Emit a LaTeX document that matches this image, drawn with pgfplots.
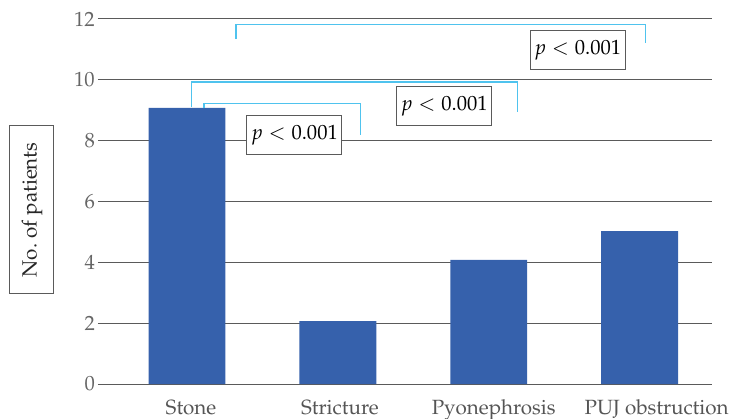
\documentclass[border=0pt]{standalone}
\usepackage[T1]{fontenc}
\usepackage{mathpazo}
\usepackage{pgfplots}
\pgfplotsset{compat=1.18}
\definecolor{barblue}{HTML}{3661AC}
\definecolor{brk}{HTML}{4FC3EE}
\definecolor{gridc}{HTML}{5A5A5A}
\definecolor{tickc}{HTML}{666666}
\definecolor{catc}{HTML}{555555}
\begin{document}
\begin{tikzpicture}[font=\fontsize{20.6bp}{24bp}\selectfont]
\begin{axis}[
  at={(0,0)}, anchor=south west,
  scale only axis, width=614bp, height=365bp,
  xmin=-0.59, xmax=3.48, ymin=0, ymax=12,
  ytick={0,2,...,12}, xtick={0,1,2,3},
  xticklabels={\hspace*{8bp}Stone,\hspace*{4bp}Stricture,\hspace*{10bp}Pyonephrosis,\hspace*{34bp}PUJ obstruction},
  axis line style={draw=none},
  major tick length=0pt,
  ymajorgrids, grid style={gridc, line width=1bp},
  yticklabel style={text=tickc, anchor=east, inner sep=0pt, xshift=-3bp},
  xticklabel style={text=catc, anchor=base, inner sep=0pt, yshift=-30.5bp},
  clip=false,
]
\addplot[ybar, bar width=0.51, fill=barblue, draw=none] coordinates {(0,9.08) (1,2.07) (2,4.08) (3,5.03)};
% brackets
\addplot[brk, line width=1.2bp, mark=none] coordinates {(0.325,11.34) (0.325,11.82) (3.04,11.82) (3.04,11.21)};
\addplot[brk, line width=1.2bp, mark=none] coordinates {(0.031,9.10) (0.031,9.93) (2.19,9.93) (2.19,8.94)};
\addplot[brk, line width=1.2bp, mark=none] coordinates {(0.113,9.06) (0.113,9.21) (1.152,9.21) (1.152,8.19)};
\node[draw=gridc, fill=white, line width=1bp, minimum width=95bp, minimum height=39bp, inner sep=0pt] at (axis cs:2.59,10.98) {$p < 0.001$};
\node[draw=gridc, fill=white, line width=1bp, minimum width=95bp, minimum height=39bp, inner sep=0pt] at (axis cs:1.705,9.14) {$p < 0.001$};
\node[draw=gridc, fill=white, line width=1bp, minimum width=95bp, minimum height=39bp, inner sep=0pt] at (axis cs:0.712,8.19) {$p < 0.001$};
\node[draw=gridc, line width=1bp, rotate=90, minimum width=168bp, minimum height=44bp, inner sep=0pt, text=black!85] at (rel axis cs:-0.1075,0.477) {No.\ of patients};
\end{axis}
\pgfresetboundingbox
\useasboundingbox (-98bp,-35bp) rectangle (634bp,384bp);
\end{tikzpicture}
\end{document}
